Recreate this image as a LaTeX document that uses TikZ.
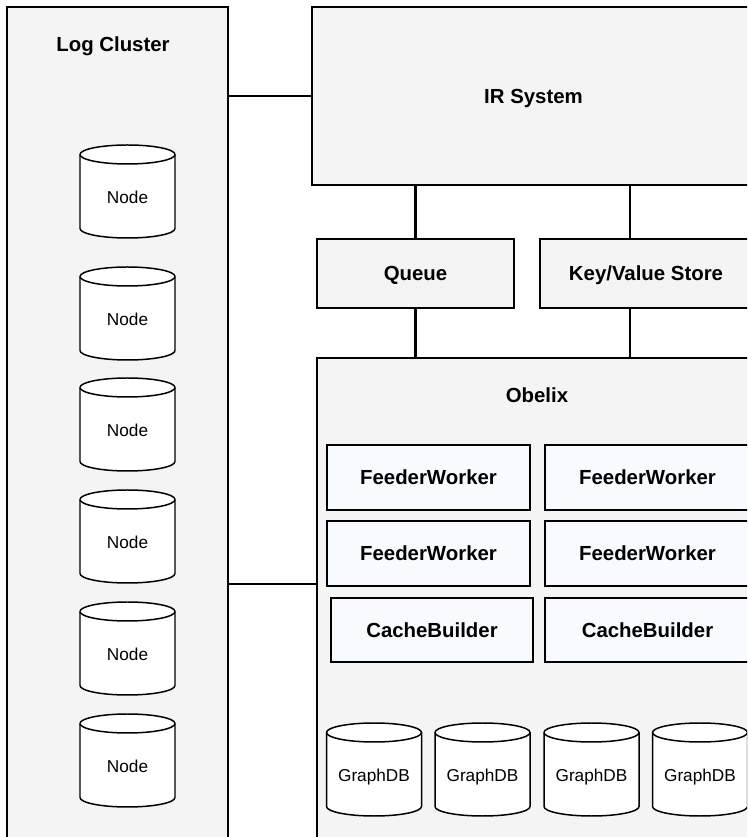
\documentclass[tikz,border=0pt]{standalone}
\usepackage{fontspec}
\setmainfont{Liberation Sans}
\usetikzlibrary{positioning}
\definecolor{panelgray}{HTML}{F4F4F4}
\definecolor{workerfill}{HTML}{F7FBFD}
\tikzset{
  panel/.style={draw, line width=0.85pt, fill=panelgray, text depth=0pt,
    font=\bfseries\fontsize{11.6}{13}\selectfont},
  worker/.style={draw, line width=0.85pt, fill=workerfill, text depth=0pt,
    font=\bfseries\fontsize{11.6}{13}\selectfont},
  title/.style={text depth=0pt, font=\bfseries\fontsize{11.6}{13}\selectfont},
  cylline/.style={line width=0.85pt},
  dbtext/.style={text depth=0pt, font=\fontsize{9.8}{11}\selectfont},
  link/.style={line width=1.6pt},
}
% database drum: name, x, top y, text
\newcommand{\dbcyl}[4]{
\begin{scope}[shift={(#2,#3)}]
\draw[cylline, fill=white] (-0.95,-0.19) -- (-0.95,-1.67)
  arc[start angle=180, end angle=360, x radius=0.95, y radius=0.19]
  -- (0.95,-0.19)
  arc[start angle=0, end angle=180, x radius=0.95, y radius=0.19] -- cycle;
\draw[cylline] (-0.95,-0.19) arc[start angle=180, end angle=360, x radius=0.95, y radius=0.19];
\node[dbtext] (#1) at (0,-1.04) {#4};
\end{scope}}

\begin{document}
\begin{tikzpicture}
\useasboundingbox (0,0) rectangle (14.94,16.74);
\clip (0,0) rectangle (14.94,16.74);

% containers
\node[panel, minimum width=4.42cm, minimum height=17.1cm] (logc) at (2.35,8.05) {};
\node[title] (logtitle) at (2.26,15.86) {Log Cluster};
\node[panel, minimum width=8.86cm, minimum height=3.56cm] (ir) at (10.67,14.82) {IR System};
\node[panel, minimum width=3.94cm, minimum height=1.38cm] (queue) at (8.31,11.27) {Queue};
\node[panel, minimum width=4.24cm, minimum height=1.38cm] (kv) at (12.92,11.27) {Key/Value Store};
\node[panel, minimum width=8.86cm, minimum height=10.08cm] (obelix) at (10.77,4.54) {};
\node[title] (obelixtitle) at (10.74,8.84) {Obelix};

% links
\draw[link] (ir.west) -- (ir.west -| logc.east);
\draw[link] (queue.north) -- (queue.north |- ir.south);
\draw[link] ([xshift=-0.32cm]kv.north) -- ([xshift=-0.32cm]kv.north |- ir.south);
\draw[link] (queue.south) -- (queue.south |- obelix.north);
\draw[link] ([xshift=-0.32cm]kv.south) -- ([xshift=-0.32cm]kv.south |- obelix.north);
\draw[link] ([yshift=0.52cm]obelix.west) -- ([yshift=0.52cm]obelix.west -| logc.east);

% workers
\node[worker, minimum width=4.06cm, minimum height=1.3cm] (fw1) at (8.57,7.19) {FeederWorker};
\node[worker, minimum width=4.1cm, minimum height=1.3cm] (fw2) at (12.95,7.19) {FeederWorker};
\node[worker, minimum width=4.06cm, minimum height=1.3cm] (fw3) at (8.57,5.67) {FeederWorker};
\node[worker, minimum width=4.1cm, minimum height=1.3cm] (fw4) at (12.95,5.67) {FeederWorker};
\node[worker, minimum width=4.04cm, minimum height=1.28cm] (cb1) at (8.64,4.14) {CacheBuilder};
\node[worker, minimum width=4.1cm, minimum height=1.28cm] (cb2) at (12.95,4.14) {CacheBuilder};

% log nodes
\dbcyl{node1}{2.55}{13.84}{Node}
\dbcyl{node2}{2.55}{11.4}{Node}
\dbcyl{node3}{2.55}{9.18}{Node}
\dbcyl{node4}{2.55}{6.94}{Node}
\dbcyl{node5}{2.55}{4.7}{Node}
\dbcyl{node6}{2.55}{2.46}{Node}

% graph stores
\dbcyl{gdb1}{7.48}{2.28}{GraphDB}
\dbcyl{gdb2}{9.65}{2.28}{GraphDB}
\dbcyl{gdb3}{11.83}{2.28}{GraphDB}
\dbcyl{gdb4}{14.0}{2.28}{GraphDB}
\end{tikzpicture}
\end{document}
